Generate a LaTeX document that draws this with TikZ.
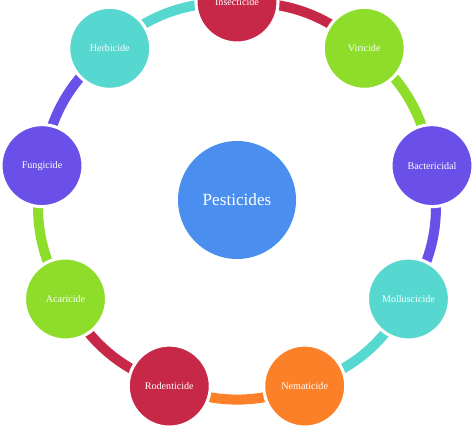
\documentclass[tikz,border=0pt]{standalone}
\usepackage{fontspec}
\setmainfont{Liberation Serif}
\usepackage{tikz}
\usetikzlibrary{backgrounds}

\definecolor{crimson}{RGB}{199,40,72}
\definecolor{lime}{RGB}{141,221,42}
\definecolor{violet}{RGB}{106,80,232}
\definecolor{teal}{RGB}{86,215,207}
\definecolor{tangerine}{RGB}{252,128,40}
\definecolor{sky}{RGB}{74,143,240}

\tikzset{
    kind/.style={circle, draw=white, line width=2.2pt, minimum size=2.05cm, inner sep=0pt,
        text=white, font=\fontsize{7.2}{8}\selectfont},
    ring/.style={line width=0.25cm}
}

\begin{document}
\begin{tikzpicture}
    \clip (-5.925,-5.725) rectangle (5.925,5.0);
    \useasboundingbox (-5.925,-5.725) rectangle (5.925,5.0);

    \node [circle, fill=sky, minimum size=2.95cm, inner sep=0pt, text=white,
        font=\fontsize{12.2}{14}\selectfont] (pest) at (0,0) {Pesticides};

    \node [kind, fill=crimson] (insect) at (90:4.95) {\raisebox{-2.4pt}{Insecticide}};
    \node [kind, fill=lime] (viri) at (50:4.95) {Viricide};
    \node [kind, fill=violet] (bact) at (10:4.95) {Bactericidal};
    \node [kind, fill=teal] (mollusc) at (-30:4.95) {Molluscicide};
    \node [kind, fill=tangerine] (nema) at (-70:4.95) {Nematicide};
    \node [kind, fill=crimson] (rodent) at (-110:4.95) {Rodenticide};
    \node [kind, fill=lime] (acari) at (-150:4.95) {Acaricide};
    \node [kind, fill=violet] (fungi) at (170:4.95) {Fungicide};
    \node [kind, fill=teal] (herb) at (130:4.95) {Herbicide};

    \begin{pgfonlayer}{background}
        \draw [ring, crimson] (insect.center) to[bend left=20] (viri.center);
        \draw [ring, lime] (viri.center) to[bend left=20] (bact.center);
        \draw [ring, violet] (bact.center) to[bend left=20] (mollusc.center);
        \draw [ring, teal] (mollusc.center) to[bend left=20] (nema.center);
        \draw [ring, tangerine] (nema.center) to[bend left=20] (rodent.center);
        \draw [ring, crimson] (rodent.center) to[bend left=20] (acari.center);
        \draw [ring, lime] (acari.center) to[bend left=20] (fungi.center);
        \draw [ring, violet] (fungi.center) to[bend left=20] (herb.center);
        \draw [ring, teal] (herb.center) to[bend left=20] (insect.center);
    \end{pgfonlayer}
\end{tikzpicture}
\end{document}
